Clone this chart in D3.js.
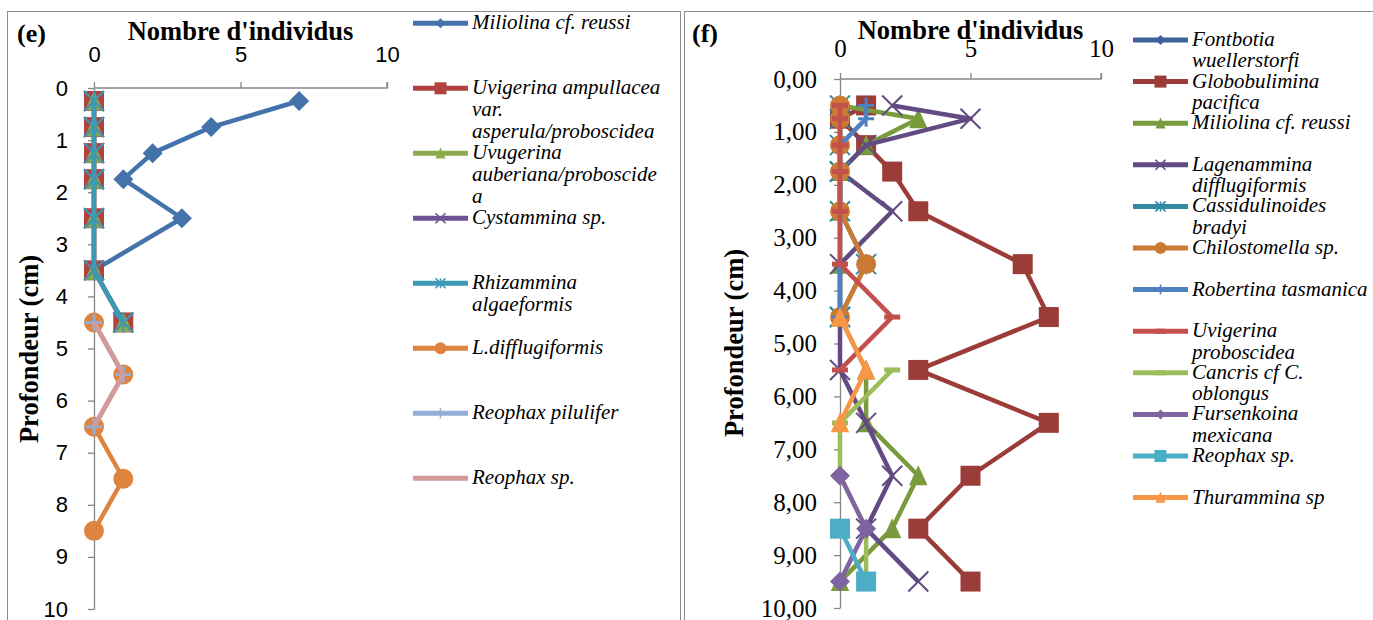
<!DOCTYPE html>
<html><head><meta charset="utf-8">
<script src="https://cdn.jsdelivr.net/npm/d3@7"></script>
<style>body{margin:0;background:#fff}</style>
</head><body>
<svg id="chart" width="1373" height="620"></svg>
<script>
// ===== Panel (e) data =====
const depthsE = [0.25, 0.75, 1.25, 1.75, 2.5, 3.5, 4.5, 5.5, 6.5, 7.5, 8.5];
const miliolinaE        = [7, 4, 2, 1, 3, 0, null, null, null, null, null];
const uvigerinaAmpE     = [0, 0, 0, 0, 0, 0, 1, null, null, null, null];
const uvugerinaAubE     = [0, 0, 0, 0, 0, 0, 1, null, null, null, null];
const cystamminaE       = [0, 0, 0, 0, 0, 0, 1, null, null, null, null];
const rhizamminaE       = [0, 0, 0, 0, 0, 0, 1, null, null, null, null];
const lDifflugiformisE  = [null, null, null, null, null, null, 0, 1, 0, 1, 0];
const reophaxPiluliferE = [null, null, null, null, null, null, 0, 1, 0, null, null];
const reophaxSpE        = [null, null, null, null, null, null, 0, 1, 0, null, null];
const namesE = [
  ["Miliolina cf. reussi"],
  ["Uvigerina ampullacea", "var.", "asperula/proboscidea"],
  ["Uvugerina", "auberiana/proboscide", "a"],
  ["Cystammina sp."],
  ["Rhizammina", "algaeformis"],
  ["L.difflugiformis"],
  ["Reophax pilulifer"],
  ["Reophax sp."]
];
const xTicksE = [0, 5, 10];
const yTicksE = [0, 1, 2, 3, 4, 5, 6, 7, 8, 9, 10];

// ===== Panel (f) data =====
const depthsF = [0.5, 0.75, 1.25, 1.75, 2.5, 3.5, 4.5, 5.5, 6.5, 7.5, 8.5, 9.5];
const fontbotiaF       = [0, 0, 0, 0, 0, null, null, null, null, null, null, null];
const globobuliminaF   = [1, 0, 1, 2, 3, 7, 8, 3, 8, 5, 3, 5];
const miliolinaF       = [0, 3, 1, 0, 0, 0, 0, 1, 1, 3, 2, 0];
const lagenamminaF     = [2, 5, 1, 0, 2, 0, 0, 0, 1, 2, 1, 3];
const cassidulinoidesF = [0, 0, 0, 0, 0, 1, 0, null, null, null, null, null];
const chilostomellaF   = [0, 0, 0, 0, 0, 1, 0, null, null, null, null, null];
const robertinaF       = [1, 1, 0, 0, 0, 0, 0, null, null, null, null, null];
const uvigerinaProbF   = [0, 0, 0, 0, 0, 0, 2, 0, null, null, null, null];
const cancrisF         = [null, null, null, null, null, null, null, 2, 0, 0, 1, 1];
const fursenkoinaF     = [null, null, null, null, null, null, null, null, null, 0, 1, 0];
const reophaxSpF       = [null, null, null, null, null, null, null, null, null, null, 0, 1];
const thuramminaF      = [null, null, null, null, null, null, 0, 1, 0, null, null, null];
const namesF = [
  ["Fontbotia", "wuellerstorfi"],
  ["Globobulimina", "pacifica"],
  ["Miliolina cf. reussi"],
  ["Lagenammina", "difflugiformis"],
  ["Cassidulinoides", "bradyi"],
  ["Chilostomella sp."],
  ["Robertina tasmanica"],
  ["Uvigerina", "proboscidea"],
  ["Cancris cf C.", "oblongus"],
  ["Fursenkoina", "mexicana"],
  ["Reophax sp."],
  ["Thurammina sp"]
];
const xTicksF = [0, 5, 10];
const yTicksF = [0, 1, 2, 3, 4, 5, 6, 7, 8, 9, 10];

// ===== Style =====
const seriesE = [
  {v: miliolinaE,        color: "#4472AB", marker: "diamond"},
  {v: uvigerinaAmpE,     color: "#B0433F", marker: "square"},
  {v: uvugerinaAubE,     color: "#8DAA4C", marker: "triangle"},
  {v: cystamminaE,       color: "#6E5396", marker: "x"},
  {v: rhizamminaE,       color: "#3C9AB4", marker: "star"},
  {v: lDifflugiformisE,  color: "#DF843F", marker: "circle"},
  {v: reophaxPiluliferE, color: "#93AED6", marker: "plus"},
  {v: reophaxSpE,        color: "#D49A99", marker: "none"}
];
const seriesF = [
  {v: fontbotiaF,       color: "#3A6399", marker: "diamond"},
  {v: globobuliminaF,   color: "#9B3C39", marker: "square"},
  {v: miliolinaF,       color: "#7A9A3E", marker: "triangle"},
  {v: lagenamminaF,     color: "#614B82", marker: "x"},
  {v: cassidulinoidesF, color: "#318AA1", marker: "star"},
  {v: chilostomellaF,   color: "#CC7A33", marker: "circle"},
  {v: robertinaF,       color: "#4F81C2", marker: "plus"},
  {v: uvigerinaProbF,   color: "#C4504C", marker: "dash"},
  {v: cancrisF,         color: "#9CBD5A", marker: "dash"},
  {v: fursenkoinaF,     color: "#8064A2", marker: "diamond"},
  {v: reophaxSpF,       color: "#4BADC6", marker: "square"},
  {v: thuramminaF,      color: "#F79646", marker: "triangle"}
];

const svg = d3.select("#chart");
svg.append("rect").attr("width", 1373).attr("height", 620).attr("fill", "#fff");

// frames
svg.append("rect").attr("x", 7.5).attr("y", 11.5).attr("width", 673).attr("height", 640)
  .attr("fill", "none").attr("stroke", "#8c8c8c").attr("stroke-width", 1);
svg.append("rect").attr("x", 684.5).attr("y", 11.5).attr("width", 700).attr("height", 640)
  .attr("fill", "none").attr("stroke", "#8c8c8c").attr("stroke-width", 1);

function drawMarker(sel, type, s, color, sw) {
  // s = half-size
  if (type === "none") return;
  if (type === "diamond") {
    sel.append("path").attr("d", `M0,${-s}L${s},0L0,${s}L${-s},0Z`).attr("fill", color);
  } else if (type === "square") {
    sel.append("rect").attr("x", -s).attr("y", -s).attr("width", 2 * s).attr("height", 2 * s).attr("fill", color);
  } else if (type === "triangle") {
    sel.append("path").attr("d", `M0,${-s * 1.05}L${s * 0.92},${s * 0.95}L${-s * 0.92},${s * 0.95}Z`).attr("fill", color);
  } else if (type === "circle") {
    sel.append("circle").attr("r", s).attr("fill", color);
  } else if (type === "x") {
    sel.append("path").attr("d", `M${-s},${-s}L${s},${s}M${-s},${s}L${s},${-s}`)
      .attr("stroke", color).attr("stroke-width", sw || 2).attr("fill", "none");
  } else if (type === "star") {
    sel.append("path").attr("d", `M${-s},${-s}L${s},${s}M${-s},${s}L${s},${-s}M0,${-s}L0,${s}`)
      .attr("stroke", color).attr("stroke-width", sw || 2).attr("fill", "none");
  } else if (type === "plus") {
    sel.append("path").attr("d", `M${-s},0L${s},0M0,${-s}L0,${s}`)
      .attr("stroke", color).attr("stroke-width", sw || 3).attr("fill", "none");
  } else if (type === "dash") {
    sel.append("rect").attr("x", -s).attr("y", -2.5).attr("width", 2 * s).attr("height", 5).attr("fill", color);
  }
}

const markerSize = {diamond: 10, square: 10, triangle: 10, circle: 10, x: 10, star: 10, plus: 8, dash: 8, none: 0};
const legendSize = {diamond: 5, square: 6, triangle: 5.5, circle: 6, x: 5, star: 5, plus: 5, dash: 5, none: 0};

function drawPanel(cfg) {
  const x = d3.scaleLinear().domain([0, 10]).range(cfg.xRange);
  const y = d3.scaleLinear().domain([0, 10]).range(cfg.yRange);
  const g = svg.append("g");

  // axes
  const ax = g.append("g").attr("transform", `translate(0,${cfg.yRange[0]})`)
    .call(d3.axisTop(x).tickValues(cfg.xTicks).tickSize(6).tickPadding(cfg.xPad).tickSizeOuter(6));
  const ay = g.append("g").attr("transform", `translate(${cfg.xRange[0]},0)`)
    .call(d3.axisLeft(y).tickValues(cfg.yTicks).tickSize(6).tickPadding(cfg.yPad).tickSizeOuter(0).tickFormat(cfg.yFormat));
  [ax, ay].forEach(a => {
    a.selectAll("path,line").attr("stroke", "#868686").attr("stroke-width", 1.3);
    a.selectAll("text").attr("fill", "#000").attr("font-family", cfg.tickFont).attr("font-size", cfg.tickSize);
  });
  ax.select(".domain").attr("d", `M${cfg.xRange[0]},0H${cfg.xRange[1]}V-6`);

  // series
  const line = d3.line().defined(d => d.v != null).x(d => x(d.v)).y(d => y(d.depth));
  cfg.series.forEach(s => {
    const pts = cfg.depths.map((depth, i) => ({depth, v: s.v[i]}));
    const sg = g.append("g");
    sg.append("path").datum(pts).attr("d", line).attr("fill", "none")
      .attr("stroke", s.color).attr("stroke-width", 4.5).attr("stroke-linejoin", "round");
    sg.selectAll("g.m").data(pts.filter(d => d.v != null)).join("g").attr("class", "m")
      .attr("transform", d => `translate(${x(d.v)},${y(d.depth)})`)
      .each(function () { drawMarker(d3.select(this), s.marker, markerSize[s.marker], s.color); });
  });

  // titles
  g.append("text").attr("x", (cfg.xRange[0] + cfg.xRange[1]) / 2).attr("y", cfg.titleY)
    .attr("text-anchor", "middle").attr("font-family", "Liberation Serif").attr("font-weight", "bold")
    .attr("font-size", 26.5).text("Nombre d'individus");
  g.append("text").attr("x", cfg.labelX).attr("y", 42).attr("font-family", "Liberation Serif")
    .attr("font-weight", "bold").attr("font-size", 26).text(cfg.label);
  g.append("text").attr("transform", `translate(${cfg.yTitleX},${cfg.yTitleY}) rotate(-90)`)
    .attr("text-anchor", "middle").attr("font-family", "Liberation Serif").attr("font-weight", "bold")
    .attr("font-size", 26.5).text("Profondeur (cm)");

  // legend
  cfg.series.forEach((s, i) => {
    const ly = cfg.legY0 + i * cfg.legStep;
    const lg = g.append("g");
    lg.append("line").attr("x1", cfg.legX).attr("x2", cfg.legX + 55).attr("y1", ly).attr("y2", ly)
      .attr("stroke", s.color).attr("stroke-width", 5);
    const mg = lg.append("g").attr("transform", `translate(${cfg.legX + 27.5},${ly})`);
    drawMarker(mg, s.marker, legendSize[s.marker], s.color, 1.6);
    const t = lg.append("text").attr("font-family", "Liberation Serif").attr("font-style", "italic")
      .attr("font-size", 21).attr("fill", "#000");
    cfg.names[i].forEach((ln, k) => {
      t.append("tspan").attr("x", cfg.legX + 59).attr("y", ly + 6 + k * cfg.legLine).text(ln);
    });
  });
}

drawPanel({
  xRange: [94, 387], yRange: [88, 609], depths: depthsE, series: seriesE, names: namesE,
  xTicks: xTicksE, yTicks: yTicksE, xPad: 20, yPad: 20, yFormat: d3.format("d"),
  tickFont: "Liberation Sans", tickSize: 22,
  titleY: 40, label: "(e)", labelX: 17, yTitleX: 38, yTitleY: 349,
  legX: 413, legY0: 23.3, legStep: 65, legLine: 21.7
});
drawPanel({
  xRange: [840, 1101], yRange: [79, 608], depths: depthsF, series: seriesF, names: namesF,
  xTicks: xTicksF, yTicks: yTicksF, xPad: 16, yPad: 17, yFormat: d => d3.format(".2f")(d).replace(".", ","),
  tickFont: "Liberation Serif", tickSize: 25,
  titleY: 39, label: "(f)", labelX: 692, yTitleX: 743, yTitleY: 343,
  legX: 1133, legY0: 40, legStep: 41.6, legLine: 21.3
});
</script>
</body></html>
